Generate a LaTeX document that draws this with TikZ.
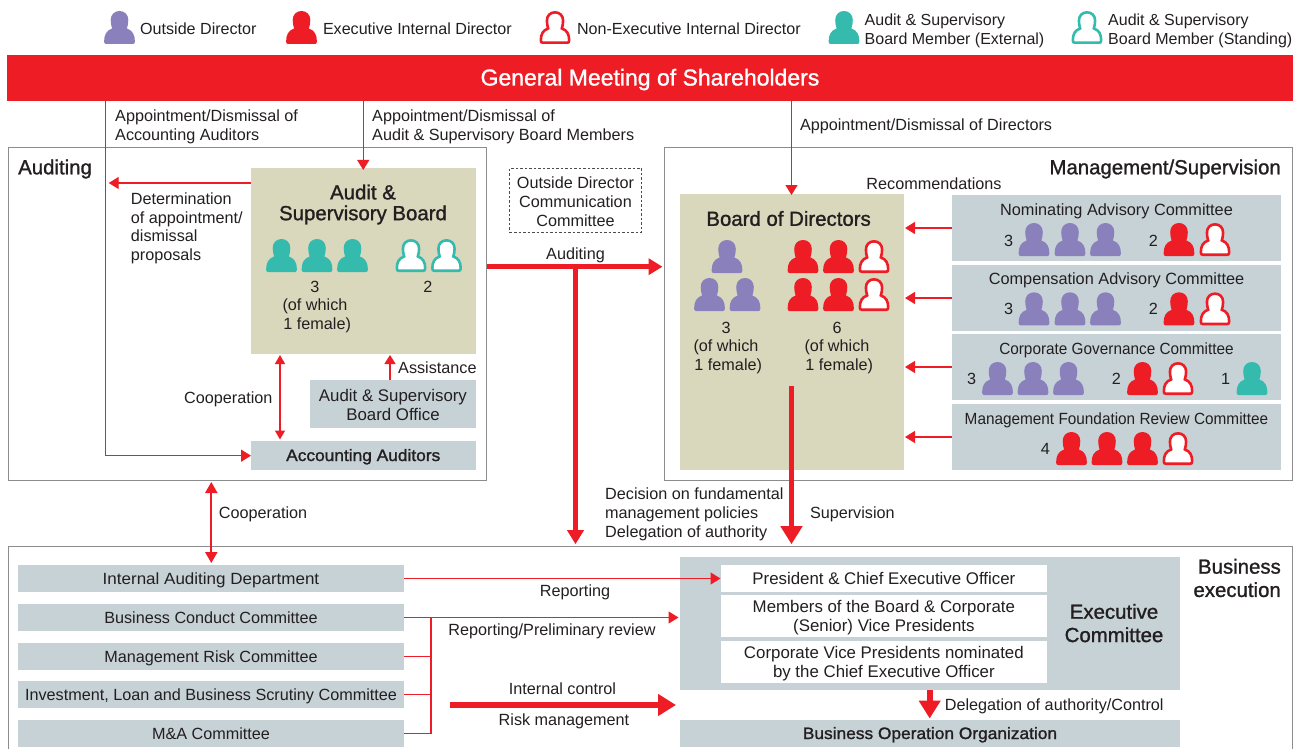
\documentclass[tikz,border=0pt]{standalone}
\usepackage{fontspec}
\usetikzlibrary{arrows.meta}
\setmainfont{Liberation Sans}
\newfontfamily\medf[FakeBold=1.2]{Liberation Sans}
\newfontfamily\medw[FakeBold=1.4,FakeStretch=1.05]{Liberation Sans}
\newfontfamily\condf[FakeStretch=0.947]{Liberation Sans}
\newfontfamily\widef[FakeStretch=1.05]{Liberation Sans}
\definecolor{cred}{HTML}{EE1C25}
\definecolor{cpur}{HTML}{8A81BC}
\definecolor{cteal}{HTML}{35BBAD}
\definecolor{ctan}{HTML}{D9D8BD}
\definecolor{cgray}{HTML}{C7D2D7}
\definecolor{cline}{HTML}{8C8C8C}
\definecolor{ctext}{HTML}{231F20}
\newcommand{\rbox}[7][]{%
  \pgfmathsetmacro{\rcx}{(#3+#5)/2}\pgfmathsetmacro{\rcy}{(#4+#6)/2}%
  \pgfmathsetmacro{\rw}{#5-#3}\pgfmathsetmacro{\rh}{#6-#4}%
  \node[inner sep=0pt,outer sep=0pt,minimum width=\rw pt,minimum height=\rh pt,#1] (#2) at (\rcx,\rcy) {#7};}
\newcommand{\personpath}{(-15.4,-2.5) .. controls (-15.4,-9.5) and (-13,-13.5) .. (-7.4,-15.5) .. controls (-8.2,-18) and (-8.8,-20.5) .. (-8.8,-24) .. controls (-8.8,-29.5) and (-5,-33) .. (0,-33) .. controls (5,-33) and (8.8,-29.5) .. (8.8,-24) .. controls (8.8,-20.5) and (8.2,-18) .. (7.4,-15.5) .. controls (13,-13.5) and (15.4,-9.5) .. (15.4,-2.5) .. controls (15.4,-0.8) and (14.6,0) .. (13.5,0) -- (-13.5,0) .. controls (-14.6,0) and (-15.4,-0.8) .. (-15.4,-2.5) -- cycle}
\newcommand{\tfix}{\rule{0pt}{15pt}}
\tikzset{
  x=1pt,y=-1pt,
  person/.pic={\path[pic actions] \personpath;},
  opers/.pic={\path[pic actions,shift={(0,-1.3)},xscale=.92,yscale=.92] \personpath;},
  P/.style={fill=cpur},
  R/.style={fill=cred},
  T/.style={fill=cteal},
  OR/.style={draw=cred,fill=white,line width=2.6pt},
  OT/.style={draw=cteal,fill=white,line width=2.6pt},
  fsz/.style={font=\fontsize{#1}{18.8}\selectfont},
  lbl/.style={inner sep=0pt,text=ctext,fsz=16.2,text height=13pt,text depth=2pt},
  mlbl/.style={inner sep=0pt,text=ctext,fsz=16.2,align=center},
  mlbll/.style={mlbl,align=left,anchor=west},
  hd/.style={inner sep=0pt,text=ctext,font=\fontsize{20.4}{22}\medf,yshift=-1.5pt},
  tanbox/.style={fill=ctan},
  graybox/.style={fill=cgray},
  whitebox/.style={fill=white},
  frame/.style={draw=cline,line width=1pt},
  thin arrow/.style={draw=cred,line width=1.3pt,-{Triangle[length=10pt,width=12pt]}},
  thin line/.style={draw=cred,line width=1.3pt},
  small arrow/.style={draw=cred,line width=1.5pt,-{Triangle[length=9pt,width=11pt]}},
  dbl arrow/.style={draw=cred,line width=1.5pt,{Triangle[length=9pt,width=10pt]}-{Triangle[length=9pt,width=10pt]}},
  dbl2 arrow/.style={draw=cred,line width=2.2pt,{Triangle[length=11pt,width=12pt]}-{Triangle[length=11pt,width=12pt]}},
  thick arrow/.style={draw=cred,line width=4.8pt,-{Triangle[length=14pt,width=16pt]}},
  big arrow/.style={draw=cred,line width=5.8pt,-{Triangle[length=18pt,width=21pt]}},
  subhd/.style={font=\fontsize{16.5}{18.8}\medw,text=ctext,text height=13pt,text depth=2pt},
}
\begin{document}
\begin{tikzpicture}
\useasboundingbox (0,0) rectangle (1301,749);
% legend
\pic[P] at (119.5,44) {person};
\pic[R] at (301.5,44) {person};
\pic[OR] at (555,44) {opers};
\pic[T] at (844,44) {person};
\pic[OT] at (1087,44) {opers};
\node[lbl,anchor=west,fsz=16.1] (l1) at (140,28.7) {Outside Director};
\node[lbl,anchor=west,fsz=16.1] (l2) at (322.8,28.7) {Executive Internal Director};
\node[lbl,anchor=west,fsz=16.1] (l3) at (576.8,28.7) {Non-Executive Internal Director};
\node[mlbll,fsz=16] (l4) at (864.5,29.2) {\tfix Audit \& Supervisory\\Board Member (External)};
\node[mlbll,fsz=16] (l5) at (1108,29.2) {\tfix Audit \& Supervisory\\Board Member (Standing)};
% banner
\rbox[fill=cred,text=white,font=\fontsize{23}{24}\medf,text height=16pt,text depth=1pt]{banner}{7}{55}{1293}{101}{General Meeting of Shareholders}
% frames
\rbox[frame]{audit}{8}{148}{486.5}{480}{}
\rbox[frame]{mgmt}{664.5}{148}{1292.5}{480}{}
\rbox{busi}{8}{546.7}{1292.5}{749}{}
\draw[frame] (busi.south west) -- (busi.north west) -- (busi.north east) -- (busi.south east);
\node[hd,anchor=west] (h1) at (18,167.5) {Auditing};
\node[hd,anchor=east] (h2) at (1281,167.5) {Management/Supervision};
\node[hd,anchor=east,align=right,font=\fontsize{20.4}{23.3}\medf] (h3) at (1281,576.5) {Business\\execution};
% audit boxes
\rbox[tanbox]{asb}{251}{168}{475.5}{354}{}
\node[hd,align=center,font=\fontsize{20.4}{20.8}\medf] (asbt) at (363,203) {Audit \&\\Supervisory Board};
\foreach \x in {281.5,317,352.5} \pic[T] at (\x,272) {person};
\foreach \x in {411,446.5} \pic[OT] at (\x,272) {opers};
\node[mlbl] (asb3) at (315,305) {\tfix 3\\[0pt](of which\\\ 1 female)};
\node[lbl] (asb2) at (427.8,286.7) {2};
\rbox[graybox,mlbl,fsz=16.85]{office}{310.4}{380}{475.5}{427.7}{\tfix Audit \& Supervisory\\Board Office}
\rbox[graybox,subhd]{acc}{251}{441}{475.5}{470}{Accounting Auditors}
\node[lbl,anchor=west] (t1) at (398,367.7) {Assistance};
\node[lbl,anchor=east] (t2) at (272.6,397.7) {Cooperation};
\node[mlbll] (t3) at (130.7,226.7) {\tfix Determination\\of appointment/\\dismissal\\proposals};
\node[mlbll] (t4) at (115,125.2) {\tfix Appointment/Dismissal of\\Accounting Auditors};
\node[mlbll] (t5) at (372,125.2) {\tfix Appointment/Dismissal of\\Audit \& Supervisory Board Members};
\node[lbl,anchor=west] (t6) at (799.8,124.7) {Appointment/Dismissal of Directors};
\rbox[draw=black!70,dash pattern=on 2.5pt off 2pt,line width=.7pt,mlbl]{odcc}{509.5}{168.3}{641.5}{232.3}{\tfix Outside Director\\Communication\\Committee}
\node[lbl] (t7) at (575.5,253.7) {Auditing};
% board
\rbox[tanbox]{bod}{680}{194}{904}{470}{}
\node[hd] (bodt) at (788.6,217) {Board of Directors};
\pic[P] at (727,273) {person};
\foreach \x in {709.5,745} \pic[P] at (\x,311) {person};
\foreach \y in {273,311} {
  \foreach \x in {803,838.5} \pic[R] at (\x,\y) {person};
  \pic[OR] at (874,\y) {opers};
}
\node[mlbl] (bod3) at (726,346) {\tfix 3\\(of which\\\ 1 female)};
\node[mlbl] (bod6) at (837,346) {\tfix 6\\(of which\\\ 1 female)};
\node[lbl] (t8) at (934,183.7) {Recommendations};
% committees
\rbox[graybox]{c1}{952}{195}{1281}{261}{}
\rbox[graybox]{c2}{952}{265}{1281}{331}{}
\rbox[graybox]{c3}{952}{334}{1281}{400}{}
\rbox[graybox]{c4}{952}{404}{1281}{470}{}
\node[lbl,fsz=16.3] (c1t) at (1116.5,209.7) {Nominating Advisory Committee};
\node[lbl,fsz=16.3] (c2t) at (1116.5,278.7) {Compensation Advisory Committee};
\node[lbl,font=\fontsize{16.2}{18.8}\condf] (c3t) at (1116.5,348.7) {Corporate Governance Committee};
\node[lbl,font=\fontsize{16.2}{18.8}\condf] (c4t) at (1116.5,418.7) {Management Foundation Review Committee};
\foreach \y in {256,325.3} {
  \foreach \x in {1034,1070,1105.5} \pic[P] at (\x,\y) {person};
  \pic[R] at (1179,\y) {person};
  \pic[OR] at (1215,\y) {opers};
}
\node[lbl] (n1) at (1008.5,240.5) {3};
\node[lbl] (n2) at (1153.3,240.5) {2};
\node[lbl] (n3) at (1008.5,309.3) {3};
\node[lbl] (n4) at (1153.3,309.3) {2};
\foreach \x in {997.5,1033,1068.5} \pic[P] at (\x,395) {person};
\pic[R] at (1142.5,395) {person};
\pic[OR] at (1178,395) {opers};
\pic[T] at (1252,395) {person};
\node[lbl] (n5) at (971.6,379) {3};
\node[lbl] (n6) at (1116.4,379) {2};
\node[lbl] (n7) at (1225.5,379) {1};
\foreach \x in {1071.5,1107,1142.5} \pic[R] at (\x,465) {person};
\pic[OR] at (1178,465) {opers};
\node[lbl] (n8) at (1045.4,449) {4};
% business
\rbox[graybox,lbl,font=\fontsize{16.2}{18.8}\widef]{b1}{18}{565}{404}{592}{Internal Auditing Department}
\rbox[graybox,lbl]{b2}{18}{604}{404}{631}{Business Conduct Committee}
\rbox[graybox,lbl]{b3}{18}{643}{404}{670}{Management Risk Committee}
\rbox[graybox,lbl]{b4}{18}{681}{404}{708}{Investment, Loan and Business Scrutiny Committee}
\rbox[graybox,lbl]{b5}{18}{720}{404}{747}{M\&A Committee}
\rbox[graybox]{ex}{680}{557}{1180}{690}{}
\rbox[whitebox,lbl,fsz=16.85]{w1}{721}{565}{1046.7}{592}{President \& Chief Executive Officer}
\rbox[whitebox,mlbl,fsz=16.85]{w2}{721}{595}{1046.7}{637}{\tfix Members of the Board \& Corporate\\(Senior) Vice Presidents}
\rbox[whitebox,mlbl,fsz=16.85]{w3}{721}{641}{1046.7}{683}{\tfix Corporate Vice Presidents nominated\\by the Chief Executive Officer}
\node[hd,align=center,font=\fontsize{20.4}{23.3}\medf] (ext) at (1114,621.6) {Executive\\Committee};
\rbox[graybox,subhd]{boo}{680}{720}{1180}{747}{Business Operation Organization}
\node[lbl] (t9) at (575,591) {Reporting};
\node[lbl] (t10) at (552,629.7) {Reporting/Preliminary review};
\node[lbl] (t11) at (562.5,688.7) {Internal control};
\node[lbl] (t12) at (564,720) {Risk management};
\node[lbl,anchor=west] (t13) at (944.6,704.7) {Delegation of authority/Control};
\node[lbl,anchor=west] (t14) at (809.8,512.7) {Supervision};
\node[mlbll] (t15) at (605,512.7) {\tfix Decision on fundamental\\management policies\\Delegation of authority};
\node[lbl,anchor=west] (t16) at (218.7,512.7) {Cooperation};
% connectors
\coordinate (ax) at (105.8,455.7);
\draw[thin arrow] (banner.south -| ax) -- (ax) -- (acc.west |- ax);
\draw[thin arrow] (banner.south -| asb.north) -- ([yshift=-2pt]asb.north);
\coordinate (dx) at (791.5,300);
\draw[thin arrow] (banner.south -| dx) -- ([yshift=-1pt]bod.north -| dx);
\coordinate (dety) at (108.7,183);
\draw[thin arrow] (asb.west |- dety) -- (dety);
\coordinate (cx) at (280,400);
\draw[dbl arrow,shorten <=1pt,shorten >=1.5pt] (asb.south -| cx) -- (acc.north -| cx);
\coordinate (sx) at (390,400);
\draw[small arrow,shorten >=1pt] (office.north -| sx) -- (asb.south -| sx);
\foreach \c in {c1,c2,c3,c4} \draw[thin arrow,shorten >=1pt] (\c.west) -- (\c.west -| bod.east);
\coordinate (cbx) at (211.3,500);
\draw[dbl2 arrow,shorten <=2pt,shorten >=2pt] (audit.south -| cbx) -- (b1.north -| cbx);
\coordinate (audy) at (575.5,266.7);
\draw[draw=cred,line width=4.8pt,-{Triangle[length=14pt,width=16pt]},shorten >=2pt] (audit.east |- audy) -- (mgmt.west |- audy);
\draw[thick arrow,shorten >=2.5pt] (audy) -- (busi.north -| audy);
\coordinate (supy) at (791.5,386);
\draw[big arrow,shorten >=2.5pt] (supy) -- (busi.north -| supy);
\draw[thin arrow,shorten >=0.5pt] (b1.east |- w1.west) -- (w1.west);
\draw[thin arrow,shorten >=1.5pt] (b2.east) -- (b2.east -| ex.west);
\coordinate (vx) at (431,617.5);
\draw[thin line] (vx) -- (vx |- b5.east);
\foreach \b in {b3,b4,b5} \draw[thin line] (\b.east) -- (vx |- \b.east);
\coordinate (thx) at (449.5,705);
\draw[big arrow,shorten >=4pt] (thx) -- (ex.west |- thx);
\coordinate (delx) at (929.7,700);
\draw[big arrow,shorten >=1.5pt] (ex.south -| delx) -- (boo.north -| delx);
\end{tikzpicture}
\end{document}
